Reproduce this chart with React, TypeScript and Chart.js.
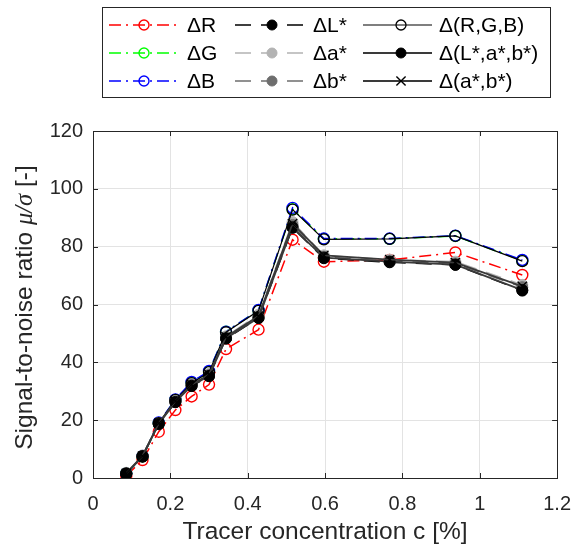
import React, { useEffect, useRef } from 'react';
import { Chart, registerables } from 'chart.js';
Chart.register(...registerables);

// ---------- data ----------
const concentration = [0.086, 0.128, 0.17, 0.213, 0.255, 0.3, 0.344, 0.428, 0.516, 0.597, 0.767, 0.937, 1.11];
const dR = [0.8, 6.2, 16.0, 23.5, 28.2, 32.3, 44.6, 51.3, 82.4, 74.8, 75.4, 78.0, 70.2];
const dG = [1.6, 7.5, 19.0, 27.0, 33.0, 36.8, 50.6, 58.0, 93.0, 82.7, 82.7, 83.7, 75.2];
const dB = [1.6, 7.6, 19.2, 27.2, 33.2, 37.0, 50.6, 58.1, 93.4, 82.8, 82.8, 83.8, 75.4];
const dL = [1.5, 7.4, 18.6, 26.2, 31.8, 35.2, 48.2, 55.3, 86.5, 76.0, 74.6, 73.7, 64.8];
const dA = [1.8, 7.8, 19.0, 26.8, 32.5, 36.0, 49.0, 56.5, 88.5, 77.0, 75.5, 74.8, 66.8];
const dBstar = [1.6, 7.6, 18.8, 26.5, 32.2, 35.6, 48.6, 55.8, 87.5, 76.5, 75.0, 74.2, 66.0];
const dRGB = [1.5, 7.5, 19.0, 27.0, 32.8, 36.6, 50.4, 57.8, 92.8, 82.5, 82.7, 83.7, 75.0];
const dLab = [1.5, 7.5, 18.7, 26.3, 31.9, 35.3, 48.3, 55.4, 86.7, 76.2, 74.8, 73.8, 65.0];
const dAb = [1.6, 7.6, 18.9, 26.6, 32.3, 35.8, 48.8, 56.0, 88.0, 77.0, 75.5, 74.5, 66.3];

const seriesLabels = ['ΔR', 'ΔG', 'ΔB', 'ΔL*', 'Δa*', 'Δb*', 'Δ(R,G,B)', 'Δ(L*,a*,b*)', 'Δ(a*,b*)'];
const seriesValues = [dR, dG, dB, dL, dA, dBstar, dRGB, dLab, dAb];

const xTickValues = [0, 0.2, 0.4, 0.6, 0.8, 1, 1.2];
const yTickValues = [0, 20, 40, 60, 80, 100, 120];

const xTitle = 'Tracer concentration c [%]';
const yTitleParts = [
  { text: 'Signal-to-noise ratio ', italic: false },
  { text: 'μ/σ', italic: true },
  { text: ' [-]', italic: false },
];

// ---------- styles ----------
const AXIS = '#262626';
const GRID = '#e3e3e3';
const FONT = "'Liberation Sans', Arial, sans-serif";

type Style = {
  line: string; width: number; dash: number[];
  marker: 'circle' | 'crossRot'; fill: string; stroke: string; r: number; mw: number;
};
const DASHDOT = [12, 5, 2, 5];
const DASHED = [16, 10];
const styles: Style[] = [
  { line: '#ff0000', width: 1.5, dash: DASHDOT, marker: 'circle', fill: 'rgba(0,0,0,0)', stroke: '#ff0000', r: 5.5, mw: 1.4 },
  { line: '#00ff00', width: 1.5, dash: DASHDOT, marker: 'circle', fill: 'rgba(0,0,0,0)', stroke: '#00ff00', r: 5.5, mw: 1.4 },
  { line: '#0000ff', width: 1.5, dash: DASHDOT, marker: 'circle', fill: 'rgba(0,0,0,0)', stroke: '#0000ff', r: 5.5, mw: 1.4 },
  { line: '#000000', width: 1.5, dash: DASHED, marker: 'circle', fill: '#000000', stroke: '#000000', r: 5.5, mw: 1 },
  { line: '#b3b3b3', width: 1.5, dash: DASHED, marker: 'circle', fill: '#b3b3b3', stroke: '#b3b3b3', r: 5.5, mw: 1 },
  { line: '#6e6e6e', width: 1.5, dash: DASHED, marker: 'circle', fill: '#6e6e6e', stroke: '#6e6e6e', r: 5.5, mw: 1 },
  { line: '#000000', width: 1.2, dash: [], marker: 'circle', fill: 'rgba(0,0,0,0)', stroke: '#000000', r: 5.5, mw: 1.3 },
  { line: '#3a3a3a', width: 1.8, dash: [], marker: 'circle', fill: '#000000', stroke: '#000000', r: 5.5, mw: 1 },
  { line: '#3a3a3a', width: 1.8, dash: [], marker: 'crossRot', fill: '#000000', stroke: '#000000', r: 6.5, mw: 1.4 },
];

function drawMarker(ctx: CanvasRenderingContext2D, s: Style, x: number, y: number) {
  ctx.save();
  ctx.setLineDash([]);
  ctx.lineWidth = s.mw;
  ctx.strokeStyle = s.stroke;
  ctx.fillStyle = s.fill;
  if (s.marker === 'circle') {
    ctx.beginPath();
    ctx.arc(x, y, s.r - 0.5, 0, Math.PI * 2);
    ctx.fill();
    ctx.stroke();
  } else {
    const d = s.r * Math.SQRT1_2;
    ctx.beginPath();
    ctx.moveTo(x - d, y - d); ctx.lineTo(x + d, y + d);
    ctx.moveTo(x + d, y - d); ctx.lineTo(x - d, y + d);
    ctx.stroke();
  }
  ctx.restore();
}

const PLOT = { left: 93, right: 560, top: 131, bottom: 478 };

const framePlugin = {
  id: 'frame',
  afterDraw(chart: any) {
    const ctx: CanvasRenderingContext2D = chart.ctx;
    const a = chart.chartArea;
    const xs = chart.scales.x;
    const ys = chart.scales.y;
    ctx.save();
    ctx.strokeStyle = AXIS;
    ctx.lineWidth = 1;
    ctx.setLineDash([]);
    ctx.strokeRect(Math.round(a.left) + 0.5, Math.round(a.top) + 0.5, Math.round(a.right - a.left), Math.round(a.bottom - a.top));
    const tl = 5;
    ctx.beginPath();
    xTickValues.forEach((v) => {
      const px = Math.round(xs.getPixelForValue(v)) + 0.5;
      ctx.moveTo(px, a.bottom); ctx.lineTo(px, a.bottom - tl);
      ctx.moveTo(px, a.top); ctx.lineTo(px, a.top + tl);
    });
    yTickValues.forEach((v) => {
      const py = Math.round(ys.getPixelForValue(v)) + 0.5;
      ctx.moveTo(a.left, py); ctx.lineTo(a.left + tl, py);
      ctx.moveTo(a.right, py); ctx.lineTo(a.right - tl, py);
    });
    ctx.stroke();

    // y title with italic part
    ctx.fillStyle = AXIS;
    ctx.textBaseline = 'alphabetic';
    ctx.textAlign = 'left';
    const fontN = `24.5px ${FONT}`;
    const fontI = `italic 24.5px 'Liberation Serif', serif`;
    let total = 0;
    const widths = yTitleParts.map((p) => {
      ctx.font = p.italic ? fontI : fontN;
      const w = ctx.measureText(p.text).width;
      total += w;
      return w;
    });
    ctx.translate(32, 307.5);
    ctx.rotate(-Math.PI / 2);
    let cx = -total / 2;
    yTitleParts.forEach((p, i) => {
      ctx.font = p.italic ? fontI : fontN;
      ctx.fillText(p.text, cx, 0);
      cx += widths[i];
    });
    ctx.restore();

    // legend box
    ctx.save();
    ctx.fillStyle = '#ffffff';
    ctx.fillRect(102.5, 7.5, 448, 90);
    ctx.strokeStyle = AXIS;
    ctx.lineWidth = 1;
    ctx.strokeRect(102.5, 7.5, 448, 90);
    const cols = [
      { l0: 109, l1: 180, m: 144, t: 187 },
      { l0: 235, l1: 307, m: 272, t: 313 },
      { l0: 363, l1: 432, m: 401, t: 439 },
    ];
    const rows = [25, 53, 81];
    ctx.font = `21px ${FONT}`;
    ctx.textBaseline = 'middle';
    seriesLabels.forEach((lab, i) => {
      const c = cols[Math.floor(i / 3)];
      const y = rows[i % 3];
      const s = styles[i];
      ctx.save();
      ctx.strokeStyle = s.line;
      ctx.lineWidth = s.width;
      ctx.setLineDash(s.dash);
      ctx.beginPath();
      ctx.moveTo(c.l0, y); ctx.lineTo(c.l1, y);
      ctx.stroke();
      ctx.restore();
      drawMarker(ctx, s, c.m, y);
      ctx.fillStyle = '#000000';
      ctx.fillText(lab, c.t, y + 1);
    });
    ctx.restore();
  },
};

export default function App() {
  const ref = useRef<HTMLCanvasElement | null>(null);
  useEffect(() => {
    document.body.style.margin = '0';
    const canvas = ref.current!;
    const n = seriesLabels.length;
    const datasets = seriesLabels.map((label, i) => {
      const s = styles[i];
      return {
        label,
        data: concentration.map((x, j) => ({ x, y: seriesValues[i][j] })),
        showLine: true,
        borderColor: s.line,
        borderWidth: s.width,
        borderDash: s.dash,
        pointStyle: s.marker,
        pointRadius: s.r,
        pointBackgroundColor: s.fill,
        pointBorderColor: s.stroke,
        pointBorderWidth: s.mw,
        order: n - i,
        tension: 0,
      };
    });
    const chart = new Chart(canvas, {
      type: 'scatter',
      data: { datasets },
      plugins: [framePlugin],
      options: {
        animation: false,
        responsive: false,
        devicePixelRatio: 1,
        layout: { padding: { top: PLOT.top, right: 585 - PLOT.right, left: 0, bottom: 0 } },
        plugins: { legend: { display: false }, tooltip: { enabled: false } },
        scales: {
          x: {
            type: 'linear',
            min: 0,
            max: 1.2,
            afterBuildTicks: (sc: any) => { sc.ticks = xTickValues.map((v) => ({ value: v })); },
            afterFit: (sc: any) => { sc.height = 548 - PLOT.bottom; },
            grid: { color: GRID, drawTicks: false },
            border: { display: false },
            ticks: {
              color: AXIS,
              padding: 14,
              maxRotation: 0,
              font: { family: FONT, size: 20 },
              callback: (v: any) => String(Number(Number(v).toFixed(1))),
            },
            title: {
              display: true,
              text: xTitle,
              color: AXIS,
              font: { family: FONT, size: 24.5 },
              padding: { top: 0, bottom: 1 },
            },
          },
          y: {
            type: 'linear',
            min: 0,
            max: 120,
            afterBuildTicks: (sc: any) => { sc.ticks = yTickValues.map((v) => ({ value: v })); },
            afterFit: (sc: any) => { sc.width = PLOT.left; },
            grid: { color: GRID, drawTicks: false },
            border: { display: false },
            ticks: {
              color: AXIS,
              padding: 10,
              font: { family: FONT, size: 20 },
            },
          },
        },
      } as any,
    });
    return () => chart.destroy();
  }, []);
  return <canvas ref={ref} width={585} height={548} style={{ display: 'block' }} />;
}
